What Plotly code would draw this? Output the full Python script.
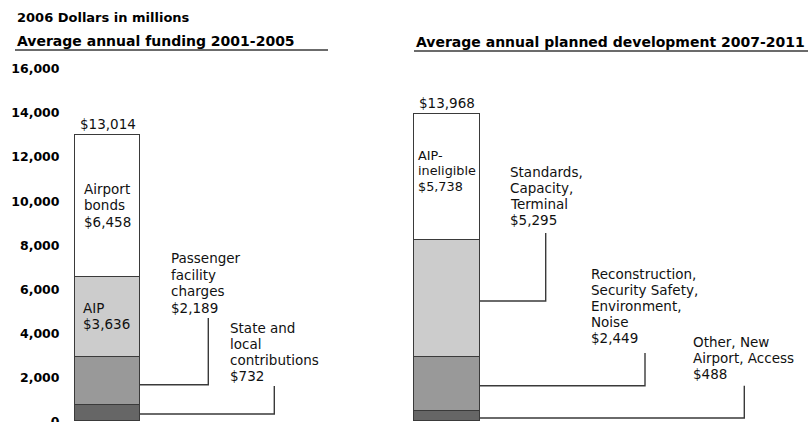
import plotly.graph_objects as go

# ---------------- data ----------------
periods = ["2001-2005", "2007-2011"]
funding_labels = ["State and\nlocal\ncontributions", "Passenger\nfacility\ncharges", "AIP", "Airport\nbonds"]
funding_values = [732, 2189, 3636, 6458]
funding_total = 13014
plan_labels = ["Other, New\nAirport, Access", "Reconstruction,\nSecurity Safety,\nEnvironment,\nNoise",
               "Standards,\nCapacity,\nTerminal", "AIP-\nineligible"]
plan_values = [488, 2449, 5295, 5738]
plan_total = 13968
y_tick_values = [0, 2000, 4000, 6000, 8000, 10000, 12000, 14000, 16000]
y_tick_labels = ["0", "2,000", "4,000", "6,000", "8,000", "10,000", "12,000", "14,000", "16,000"]
unit_label = "2006 Dollars in millions"
panel_titles = ["Average annual funding 2001-2005", "Average annual planned development 2007-2011"]

# ---------------- layout helpers ----------------
W, H = 808, 422
ML, MT, MB = 66, 69, 0
Y_RANGE = [-23, 16000]
PLOT_W = W - ML
PLOT_H = H - MT - MB
FONT = "DejaVu Sans"
TXT = "#111111"
LINE = "#3a3a3a"


def pxx(px):
    return (px - ML) / PLOT_W


def pxy(py):
    return 1 - (py - MT) / PLOT_H


def val_y(v):
    return (v - Y_RANGE[0]) / (Y_RANGE[1] - Y_RANGE[0])


bar_x = [107.5, 447]
bar_w = [65, 66]
seg_colors = ["#666666", "#999999", "#cccccc", "#ffffff"]

fig = go.Figure()
for lvl in range(4):
    fig.add_trace(go.Bar(
        x=bar_x, y=[funding_values[lvl], plan_values[lvl]], width=bar_w,
        marker=dict(color=seg_colors[lvl], line=dict(color=LINE, width=1.2)),
        showlegend=False, hoverinfo="skip",
    ))

annotations = []
shapes = []

# total labels
for bx, tot in zip(bar_x, [funding_total, plan_total]):
    annotations.append(dict(x=bx, y=tot, xref="x", yref="y", text=f"${tot:,}", showarrow=False,
                            xanchor="center", yanchor="bottom", yshift=1,
                            font=dict(family=FONT, size=13.5, color=TXT)))

# segment labels (left px, first-line center py, line spacing, font size)
label_pos = {
    (0, 3): (84, 189, 16.3, 13.5), (0, 2): (83, 308, 16.3, 13.5),
    (0, 1): (171, 258.3, 16.4, 13.5), (0, 0): (230, 327.7, 16.2, 13.5),
    (1, 3): (418, 155, 15.6, 12.8), (1, 2): (510, 171.7, 16.0, 13.5),
    (1, 1): (591, 274, 16.0, 13.5), (1, 0): (692.7, 342, 16.0, 13.5),
}
all_labels = [funding_labels, plan_labels]
all_values = [funding_values, plan_values]
for (b, lvl), (lx, ly, sp, fs) in label_pos.items():
    lines = all_labels[b][lvl].split("\n") + [f"${all_values[b][lvl]:,}"]
    for i, ln in enumerate(lines):
        annotations.append(dict(x=pxx(lx - 2), y=pxy(ly + i * sp), xref="paper", yref="paper", text=ln,
                                showarrow=False, xanchor="left", yanchor="middle",
                                font=dict(family=FONT, size=fs, color=TXT)))

# leader lines: (bar, level): (elbow px x, leader value, top px y)
leaders = {
    (0, 1): (208.3, 1670, 318), (0, 0): (274.3, 340, 386),
    (1, 2): (545.7, 5470, 233), (1, 1): (645, 1625, 353), (1, 0): (744.3, 159, 385.7),
}
for (b, lvl), (ex, lv, ty) in leaders.items():
    x0 = pxx(bar_x[b] + bar_w[b] / 2)
    x1 = pxx(ex)
    y0 = val_y(lv)
    y1 = pxy(ty)
    shapes.append(dict(type="path", xref="paper", yref="paper",
                       path=f"M {x0},{y0} L {x1},{y0} L {x1},{y1}",
                       line=dict(color=LINE, width=1.4)))

# titles
annotations.append(dict(x=pxx(15), y=pxy(17.3), xref="paper", yref="paper", text=unit_label,
                        showarrow=False, xanchor="left", yanchor="middle",
                        font=dict(family=FONT, size=13, color="black", weight="bold")))
for tx, ty, t in [(15, 40.5, panel_titles[0]), (414, 41.5, panel_titles[1])]:
    annotations.append(dict(x=pxx(tx), y=pxy(ty), xref="paper", yref="paper", text=t,
                            showarrow=False, xanchor="left", yanchor="middle",
                            font=dict(family=FONT, size=14, color="black", weight="bold")))
for x0, x1, yy in [(15, 328, 50), (414, 808, 51)]:
    shapes.append(dict(type="line", xref="paper", yref="paper", x0=pxx(x0), x1=pxx(x1),
                       y0=pxy(yy), y1=pxy(yy), line=dict(color=LINE, width=1.5)))

fig.update_layout(
    template="none",
    width=W, height=H,
    margin=dict(l=ML, r=0, t=MT, b=MB, pad=0),
    paper_bgcolor="white", plot_bgcolor="white",
    barmode="stack", bargap=0,
    showlegend=False,
    xaxis=dict(range=[ML, W], visible=False, fixedrange=True),
    yaxis=dict(range=Y_RANGE, tickvals=y_tick_values, ticktext=y_tick_labels,
               showgrid=False, zeroline=False, showline=False, automargin=False,
               ticklabeloverflow="allow",
               ticks="outside", ticklen=3, tickcolor="rgba(0,0,0,0)",
               tickfont=dict(family=FONT, size=12.5, color="black", weight="bold")),
    annotations=annotations,
    shapes=shapes,
)

fig.write_html("out.html")
